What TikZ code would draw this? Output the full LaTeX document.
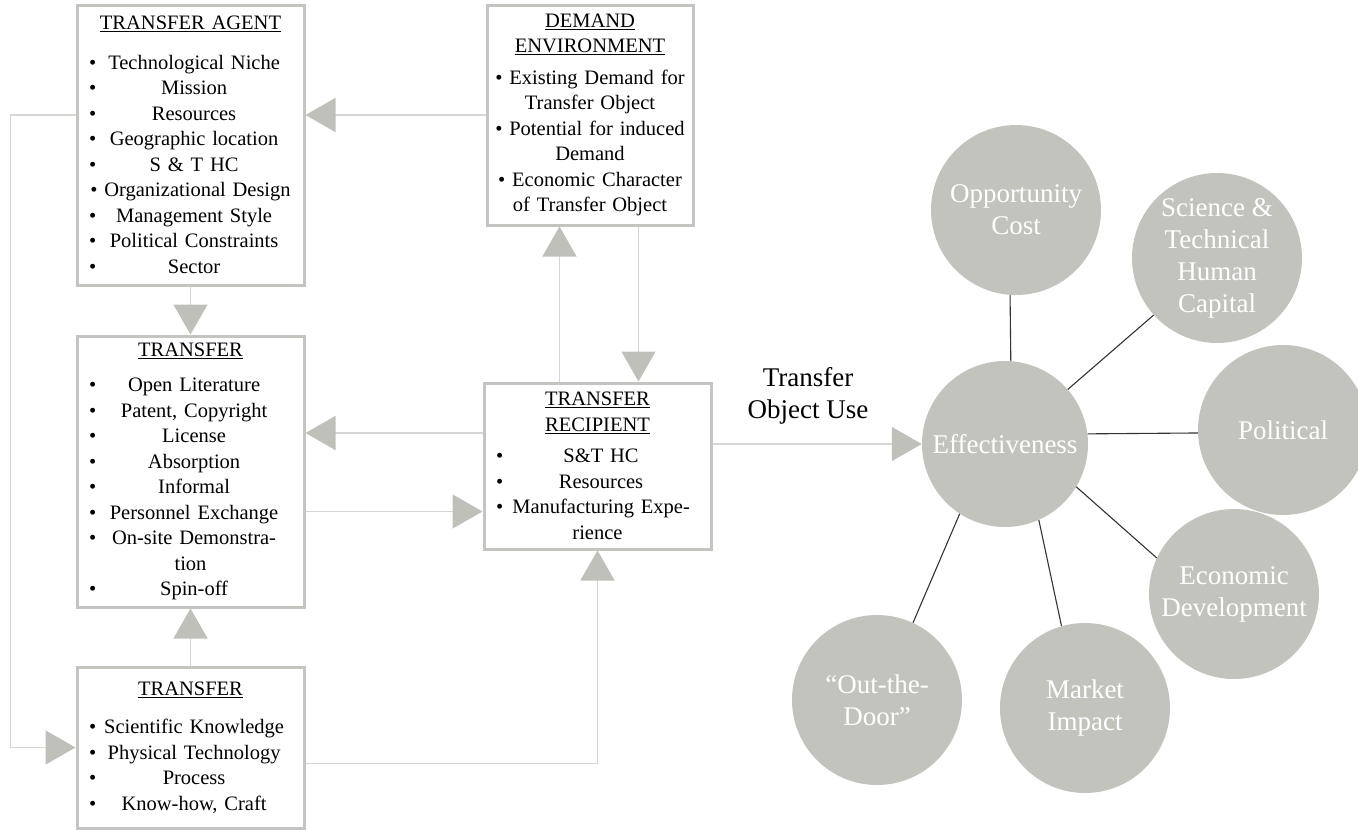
\documentclass[tikz,border=0pt]{standalone}
\usepackage{fontspec}
\setmainfont{Liberation Serif}
\usepackage{tikz}
\usetikzlibrary{arrows.meta, positioning, calc}

\definecolor{boxgray}{RGB}{196,196,192}
\definecolor{linegray}{RGB}{214,214,212}
\definecolor{headgray}{RGB}{192,192,186}
\definecolor{circgray}{RGB}{195,195,189}

% bullet at the left, text centred in the rest of the line
\newcommand{\itm}[1]{\makebox[\hsize]{\textbullet\hfill #1\hfill}}

\begin{document}
\begin{tikzpicture}[x=1pt, y=-1pt,
  box/.style={draw=boxgray, line width=3pt, fill=white, inner sep=0pt, align=center,
    text width=203pt, minimum width=227pt, font=\fontsize{20.5}{25.5}\selectfont},
  circ/.style={circle, fill=circgray, text=white, inner sep=0pt, minimum size=170pt,
    align=center, font=\fontsize{27}{32}\selectfont},
  flow/.style={draw=linegray, line width=1.5pt, -{Triangle[length=30pt, width=34pt, color=headgray]}},
  spoke/.style={draw=black!80, line width=1.1pt}]
\useasboundingbox (0,0) rectangle (1358,830);

% Boxes
\node[box, minimum height=280pt] (agent) at (190.5,145) {\underline{TRANSFER AGENT}\\[14pt]
  \itm{Technological Niche}\\ \itm{Mission}\\ \itm{Resources}\\ \itm{Geographic location}\\
  \itm{S \& T HC}\\ \textbullet\ Organizational Design\\ \itm{Management Style}\\
  \itm{Political Constraints}\\ \itm{Sector}};
\node[box, minimum height=271pt] (mech) at (190.5,471.5) {\underline{TRANSFER}\\[10pt]
  \itm{Open Literature}\\ \itm{Patent, Copyright}\\ \itm{License}\\ \itm{Absorption}\\
  \itm{Informal}\\ \itm{Personnel Exchange}\\ \itm{On-site Demonstra-}\\ tion\\ \itm{Spin-off}};
\node[box, minimum height=161pt] (obj) at (190.5,747.5) {\underline{TRANSFER}\\[13pt]
  \itm{Scientific Knowledge}\\ \itm{Physical Technology}\\ \itm{Process}\\ \itm{Know-how, Craft}};
\node[box, text width=196pt, minimum width=206pt, minimum height=220pt] (dem) at (590,115)
  {\underline{DEMAND}\\ \underline{ENVIRONMENT}\\[6pt]
  \textbullet\ Existing Demand for\\ Transfer Object\\ \textbullet\ Potential for induced\\
  Demand\\ \textbullet\ Economic Character\\ of Transfer Object};
\node[box, minimum height=166pt] (recip) at (597.5,466) {\underline{TRANSFER}\\ \underline{RECIPIENT}\\[6pt]
  \itm{S\&T HC}\\ \itm{Resources}\\ \itm{Manufacturing Expe-}\\ rience};

% Effectiveness and its dimensions
\node[circ, minimum size=166pt] (eff) at (1005,444) {Effectiveness};
\node[circ] (opp) at (1016,210) {Opportunity\\Cost};
\node[circ] (sci) at (1217,258) {Science \&\\Technical\\Human\\Capital};
\node[circ] (pol) at (1283,430) {Political};
\node[circ] (econ) at (1234,594) {Economic\\Development};
\node[circ] (mkt) at (1085,708) {Market\\Impact};
\node[circ] (otd) at (877,700) {``Out-the-\\Door''};
\node[align=center, font=\fontsize{27}{32}\selectfont] (use) at (808,396) {Transfer\\Object Use};

% Connectors
\coordinate (rin) at ([yshift=33pt]recip.west);
\coordinate (rout) at ([yshift=-40pt]mech.east);
\coordinate (rup) at ([xshift=-38pt]recip.north);
\coordinate (rdown) at ([xshift=41pt]recip.north);
\coordinate (oout) at ([yshift=-16pt]obj.east);
\draw[flow] (dem.west) -- (dem.west -| agent.east);
\draw[flow] (agent.south) -- (mech.north);
\draw[flow] (dem.west -| agent.west) -- ++(-65,0) |- (obj.west);
\draw[flow] (obj.north) -- (mech.south);
\draw[flow] (oout) -| (recip.south);
\draw[flow] (rin) -- (rin -| mech.east);
\draw[flow] (rout) -- (rout -| recip.west);
\draw[flow] (rup) -- (rup |- dem.south);
\draw[flow] (rdown |- dem.south) -- (rdown);
\draw[flow] (recip.east |- eff.west) -- (eff.west);

\draw[spoke] (eff.86) -- (opp.-94);
\draw[spoke] (eff.41) -- (sci.222);
\draw[spoke] (eff.7) -- (pol.182);
\draw[spoke] (eff.-31) -- (econ.155);
\draw[spoke] (eff.-66) -- (mkt.106);
\draw[spoke] (eff.-123) -- (otd.65);
\end{tikzpicture}
\end{document}
